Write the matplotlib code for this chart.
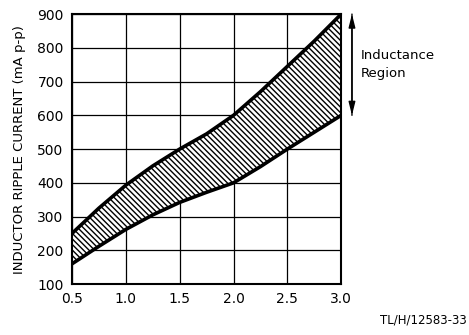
import matplotlib
matplotlib.use("Agg")
import matplotlib.pyplot as plt

# inductance (x) vs ripple current bounds (mA p-p)
x_vals = [0.5, 0.75, 1.0, 1.25, 1.5, 1.75, 2.0, 2.25, 2.5, 2.75, 3.0]
upper = [250, 325, 393, 450, 500, 545, 600, 670, 745, 820, 900]
lower = [160, 212, 262, 305, 342, 372, 400, 448, 500, 550, 600]
xticks = [0.5, 1.0, 1.5, 2.0, 2.5, 3.0]
yticks = [100, 200, 300, 400, 500, 600, 700, 800, 900]

plt.rcParams["font.family"] = ["DejaVu Sans"]
plt.rcParams["hatch.linewidth"] = 1.0

fig = plt.figure(figsize=(4.69, 3.35), dpi=100)
ax = fig.add_axes([0.1535, 0.152, 0.574, 0.806])

ax.fill_between(x_vals, lower, upper, facecolor="white", edgecolor="black",
                hatch="\\" * 6, linewidth=0, zorder=2)
ax.plot(x_vals, upper, color="black", lw=2.6, zorder=3, solid_capstyle="butt")
ax.plot(x_vals, lower, color="black", lw=2.6, zorder=3, solid_capstyle="butt")

ax.set_xlim(0.5, 3.0)
ax.set_ylim(100, 900)
ax.set_xticks(xticks)
ax.set_xticklabels([f"{t:.1f}" for t in xticks])
ax.set_yticks(yticks)
ax.grid(True, color="black", lw=0.9)
ax.set_axisbelow(True)
ax.tick_params(length=0, labelsize=10, pad=6)
for s in ax.spines.values():
    s.set_linewidth(1.5)

ax.set_ylabel("INDUCTOR RIPPLE CURRENT (mA p-p)", fontsize=9.5, labelpad=8)

# arrow for inductance region
ax.annotate("", xy=(3.1, 900), xytext=(3.1, 600), annotation_clip=False,
            arrowprops=dict(arrowstyle="-|>,head_width=0.2,head_length=0.8",
                            color="black", lw=1.0, mutation_scale=10,
                            shrinkA=0, shrinkB=0))
ax.annotate("", xy=(3.1, 600), xytext=(3.1, 900), annotation_clip=False,
            arrowprops=dict(arrowstyle="-|>,head_width=0.2,head_length=0.8",
                            color="black", lw=1.0, mutation_scale=10,
                            shrinkA=0, shrinkB=0))
ax.text(3.18, 750, "Inductance\nRegion", fontsize=9.5, va="center", ha="left",
        linespacing=1.5, clip_on=False)

fig.text(0.995, 0.025, "TL/H/12583-33", ha="right", va="bottom", fontsize=8.5)

fig.savefig("out.png", dpi=100)
